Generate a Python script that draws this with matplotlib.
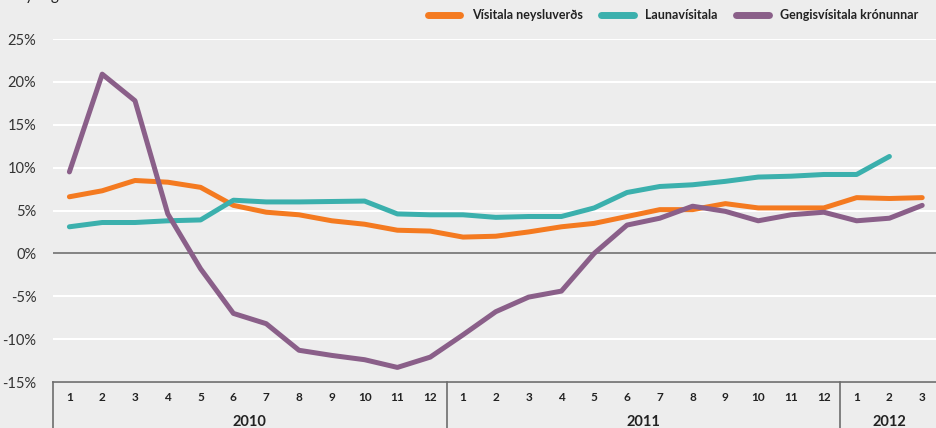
import numpy as np
import matplotlib.pyplot as plt
from matplotlib.lines import Line2D
from matplotlib.transforms import blended_transform_factory

plt.rcParams["font.family"] = ["Lato", "DejaVu Sans"]

months = [str(m) for m in range(1, 13)] * 2 + ["1", "2", "3"]
years = ["2010", "2011", "2012"]
year_lengths = [12, 12, 3]

visitala_neysluverds = [6.6, 7.3, 8.5, 8.3, 7.7, 5.6, 4.8, 4.5, 3.8, 3.4, 2.7, 2.6,
                        1.9, 2.0, 2.5, 3.1, 3.5, 4.3, 5.1, 5.1, 5.8, 5.3, 5.3, 5.3,
                        6.5, 6.4, 6.5]
launavisitala = [3.1, 3.6, 3.6, 3.8, 3.9, 6.2, 6.0, 6.0, 6.05, 6.1, 4.6, 4.5,
                 4.5, 4.2, 4.3, 4.3, 5.3, 7.1, 7.8, 8.0, 8.4, 8.9, 9.0, 9.2,
                 9.2, 11.3, np.nan]
gengisvisitala = [9.5, 20.9, 17.8, 4.6, -1.8, -7.0, -8.2, -11.3, -11.9, -12.4, -13.3, -12.1,
                  -9.5, -6.8, -5.1, -4.4, 0.0, 3.3, 4.1, 5.5, 4.9, 3.8, 4.5, 4.8,
                  3.8, 4.1, 5.6]

series = [
    ("Vísitala neysluverðs", visitala_neysluverds, "#F47A20"),
    ("Launavísitala", launavisitala, "#3BB0AD"),
    ("Gengisvísitala krónunnar", gengisvisitala, "#8A5F89"),
]

bg = "#EDEDED"
fig = plt.figure(figsize=(9.37, 4.28), dpi=100, facecolor=bg)
ax = fig.add_axes([53 / 937, 46 / 428, 885.6 / 937, 343 / 428], facecolor=bg)

x = np.arange(len(months))
for name, vals, col in series:
    ax.plot(x, vals, color=col, lw=3.6, solid_capstyle="round",
            solid_joinstyle="round", label=name, zorder=3)

ax.set_xlim(-0.5, len(months) - 0.5)
ax.set_ylim(-15, 25)
ax.set_yticks(range(-15, 26, 5))
ax.set_yticklabels([f"{v}%" for v in range(-15, 26, 5)], fontsize=10.5, color="#333333")
ax.grid(axis="y", color="white", lw=1.5, zorder=1)
ax.axhline(0, color="#6d6d6d", lw=1.2, zorder=2)
for s in ["left", "right", "top"]:
    ax.spines[s].set_visible(False)
ax.spines["bottom"].set_color("#6d6d6d")
ax.spines["bottom"].set_linewidth(1.2)
ax.tick_params(axis="y", length=0, pad=12)
ax.tick_params(axis="x", length=0, pad=7)
ax.set_xticks(x)
ax.set_xticklabels(months, fontsize=8.5, fontweight="bold", color="#222222")

# year groups under the month labels
trans = blended_transform_factory(ax.transData, ax.transAxes)
start = 0
edges = [-0.5]
for yr, n in zip(years, year_lengths):
    ax.text(start + (n - 1) / 2, -0.118, yr, transform=trans, ha="center", va="center",
            fontsize=10.5, fontweight="bold", color="#222222")
    start += n
    edges.append(start - 0.5)
for e in edges:
    ax.add_line(Line2D([e, e], [0, -0.2], transform=trans, color="#6d6d6d",
                       lw=1.2, clip_on=False))

leg = ax.legend(loc="lower right", bbox_to_anchor=(0.99, 1.02), ncol=3, frameon=False,
                prop={"size": 9, "weight": "bold"}, handlelength=2.6,
                columnspacing=1.5, handletextpad=0.9)
for t in leg.get_texts():
    t.set_color("#222222")
for h in leg.legend_handles:
    h.set_linewidth(5)

fig.text(0.003, 1.0, "Breyting", fontsize=11, va="baseline", ha="left", color="#222222")

fig.savefig("out.png", dpi=100, facecolor=bg)
